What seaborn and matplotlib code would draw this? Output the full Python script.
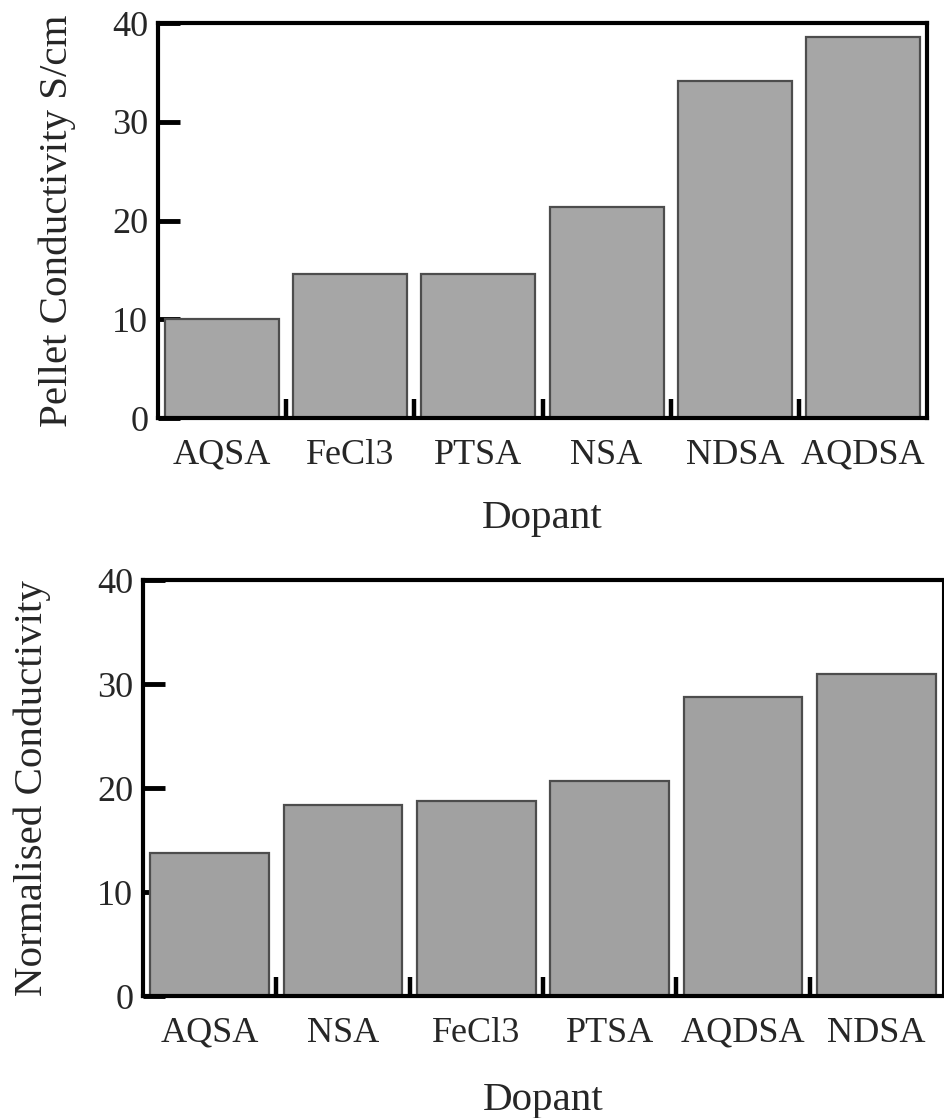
import matplotlib
matplotlib.use("Agg")
import matplotlib.pyplot as plt
import seaborn as sns
import pandas as pd

# datos
dopants_top = ["AQSA", "FeCl3", "PTSA", "NSA", "NDSA", "AQDSA"]
pellet_cond = [10.0, 14.6, 14.6, 21.4, 34.1, 38.6]

dopants_bottom = ["AQSA", "NSA", "FeCl3", "PTSA", "AQDSA", "NDSA"]
norm_cond = [13.8, 18.4, 18.8, 20.7, 28.8, 31.0]

y_ticks = [0, 10, 20, 30, 40]

sns.set_style("white")
plt.rcParams['font.family'] = ['Liberation Serif', 'DejaVu Serif']

fig = plt.figure(figsize=(9.45, 11.18), dpi=100)
ax1 = fig.add_axes([0.1672, 0.6261, 0.8138, 0.3533])
ax2 = fig.add_axes([0.1513, 0.1091, 0.8466, 0.3721])


def dibujar(ax, cats, vals, ylabel, fill, right_lw, ypad, xpad):
    df = pd.DataFrame({"Dopant": cats, "valor": vals})
    sns.barplot(data=df, x="Dopant", y="valor", ax=ax, color=fill,
                saturation=1, edgecolor="#4d4d4d", linewidth=1.6, width=0.89)
    ax.set_axisbelow(True)
    ax.set_xlim(-0.5, len(cats) - 0.5)
    ax.set_ylim(0, 40)
    ax.set_yticks(y_ticks)
    # marcas entre las barras
    ax.set_xticks([i + 0.5 for i in range(len(cats) - 1)], minor=True)
    ax.tick_params(axis='x', which='major', length=0, pad=15, labelsize=26)
    ax.tick_params(axis='x', which='minor', direction='in', length=14, width=3.2,
                   color='black', bottom=True)
    ax.tick_params(axis='y', which='major', direction='in', length=16, width=3.5,
                   color='black', pad=7, labelsize=26, left=True)
    for s in ['left', 'bottom', 'top']:
        ax.spines[s].set_linewidth(3)
        ax.spines[s].set_color('black')
    ax.spines['right'].set_linewidth(right_lw)
    ax.spines['right'].set_color('black')
    ax.set_xlabel("Dopant", fontsize=29.5, labelpad=xpad)
    ax.set_ylabel(ylabel, fontsize=29.5, labelpad=ypad)


dibujar(ax1, dopants_top, pellet_cond, "Pellet Conductivity S/cm", "#a6a6a6", 3, 26, 20)
dibujar(ax2, dopants_bottom, norm_cond, "Normalised Conductivity", "#a1a1a1", 1.5, 33, 23)

fig.savefig("out.png", dpi=100)
